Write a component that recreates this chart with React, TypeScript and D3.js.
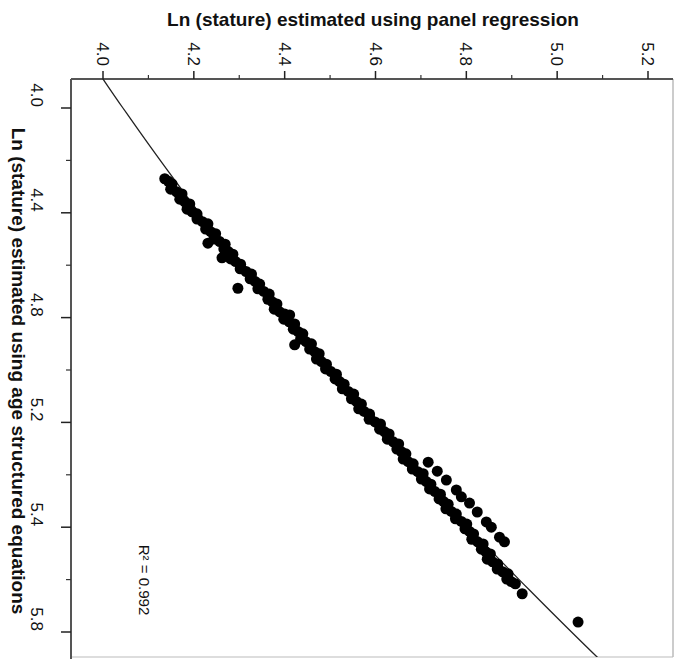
import React from "react";
import * as d3 from "d3";

// Top axis: Ln(stature) estimated using panel regression
const xTickValues = [4.0, 4.2, 4.4, 4.6, 4.8, 5.0, 5.2];
const xTickLabels = ["4.0", "4.2", "4.4", "4.6", "4.8", "5.0", "5.2"];
const xMinorTicks = [4.1, 4.3, 4.5, 4.7, 4.9, 5.1];
// Left axis: Ln(stature) estimated using age structured equations
const yTickValues = [4.0, 4.2, 4.4, 4.6, 4.8, 5.0];
const yTickLabels = ["4.0", "4.4", "4.8", "5.2", "5.4", "5.8"];
const yMinorTicks = [4.1, 4.3, 4.5, 4.7, 4.9];

// [panel regression, age structured]
const mainBand: [number, number][] = [
  [4.136, 4.135], [4.152, 4.145], [4.149, 4.155], [4.174, 4.164], [4.169, 4.174],
  [4.191, 4.183], [4.185, 4.193], [4.207, 4.202], [4.207, 4.212], [4.231, 4.221],
  [4.226, 4.231], [4.248, 4.24], [4.244, 4.25], [4.269, 4.26], [4.266, 4.269],
  [4.286, 4.279], [4.281, 4.288], [4.303, 4.298], [4.302, 4.307], [4.327, 4.317],
  [4.324, 4.326], [4.345, 4.336], [4.341, 4.345], [4.366, 4.355], [4.363, 4.365],
  [4.383, 4.374], [4.377, 4.384], [4.4, 4.393], [4.398, 4.403], [4.422, 4.412],
  [4.419, 4.422], [4.44, 4.431], [4.435, 4.441], [4.459, 4.45], [4.455, 4.46],
  [4.476, 4.469], [4.47, 4.479], [4.492, 4.489], [4.49, 4.498], [4.514, 4.508],
  [4.511, 4.517], [4.531, 4.527], [4.527, 4.536], [4.552, 4.546], [4.547, 4.555],
  [4.569, 4.565], [4.563, 4.574], [4.587, 4.584], [4.586, 4.594], [4.611, 4.603],
  [4.609, 4.613], [4.63, 4.622], [4.626, 4.632], [4.651, 4.641], [4.647, 4.651],
  [4.667, 4.66], [4.661, 4.67], [4.683, 4.679], [4.681, 4.689], [4.705, 4.698],
  [4.701, 4.708], [4.722, 4.718], [4.719, 4.727], [4.743, 4.737], [4.74, 4.746],
  [4.76, 4.756], [4.755, 4.765], [4.778, 4.775], [4.776, 4.784], [4.801, 4.794],
  [4.797, 4.803], [4.816, 4.813], [4.812, 4.823], [4.837, 4.832], [4.833, 4.842],
  [4.853, 4.851], [4.846, 4.861], [4.869, 4.87], [4.868, 4.88], [4.892, 4.889],
  [4.889, 4.899], [4.908, 4.908],
  [4.411, 4.395], [4.422, 4.452], [4.231, 4.258], [4.262, 4.286], [4.297, 4.344],
];
const mainBandCore: [number, number][] = [
  [4.144, 4.14], [4.151, 4.15], [4.162, 4.16], [4.172, 4.169], [4.18, 4.179],
  [4.188, 4.188], [4.196, 4.198], [4.207, 4.207], [4.219, 4.217], [4.229, 4.226],
  [4.237, 4.236], [4.246, 4.245], [4.257, 4.255], [4.268, 4.265], [4.276, 4.274],
  [4.284, 4.284], [4.292, 4.293], [4.303, 4.303], [4.315, 4.312], [4.326, 4.322],
  [4.335, 4.331], [4.343, 4.341], [4.354, 4.35], [4.365, 4.36], [4.373, 4.37],
  [4.38, 4.379], [4.389, 4.389], [4.399, 4.398], [4.41, 4.408], [4.421, 4.417],
  [4.43, 4.427], [4.438, 4.436], [4.447, 4.446], [4.457, 4.455], [4.466, 4.465],
  [4.473, 4.474], [4.481, 4.484], [4.491, 4.494], [4.502, 4.503], [4.513, 4.513],
  [4.521, 4.522], [4.529, 4.532], [4.54, 4.541], [4.55, 4.551], [4.558, 4.56],
  [4.566, 4.57], [4.575, 4.579], [4.587, 4.589], [4.599, 4.599], [4.61, 4.608],
  [4.62, 4.618], [4.628, 4.627], [4.639, 4.637], [4.649, 4.646], [4.657, 4.656],
  [4.664, 4.665], [4.672, 4.675], [4.682, 4.684], [4.693, 4.694], [4.703, 4.703],
  [4.712, 4.713], [4.721, 4.723], [4.731, 4.732], [4.742, 4.742], [4.75, 4.751],
  [4.758, 4.761], [4.767, 4.77], [4.777, 4.78], [4.789, 4.789], [4.799, 4.799],
  [4.807, 4.808], [4.814, 4.818], [4.825, 4.828], [4.835, 4.837], [4.843, 4.847],
  [4.85, 4.856], [4.858, 4.866], [4.869, 4.875], [4.88, 4.885], [4.891, 4.894],
  [4.899, 4.904],
];
const secondBand: [number, number][] = [
  [4.716, 4.676], [4.736, 4.693], [4.756, 4.71], [4.778, 4.729], [4.789, 4.742],
  [4.807, 4.754], [4.824, 4.771], [4.844, 4.79], [4.855, 4.8], [4.873, 4.819],
  [4.884, 4.828],
];
const outliers: [number, number][] = [
  [4.923, 4.927], [5.046, 4.981],
];
// quadratic fit: panel = c0 + c1*age + c2*age^2
const fitCoefficients = [3.7791, -0.671, 0.1843];
const fitAgeRange = [3.9, 5.1];
const rSquaredLabel = "R\u00B2 = 0.992";

export default function App() {
  const W = 676, H = 659;
  const left = 71, right = 673, top = 79, bottom = 657;
  const x = d3.scaleLinear().domain([4.0, 5.2]).range([103, 648]);
  const y = d3.scaleLinear().domain([4.0, 5.0]).range([108, 632]);
  const [c0, c1, c2] = fitCoefficients;
  const fitPts: [number, number][] = d3
    .range(fitAgeRange[0], fitAgeRange[1] + 1e-9, 0.01)
    .map(a => [c0 + c1 * a + c2 * a * a, a]);
  const line = d3.line<[number, number]>().x(d => x(d[0])).y(d => y(d[1]));
  const pts = [...mainBand, ...mainBandCore, ...secondBand, ...outliers];
  const font = "'Liberation Sans', Arial, sans-serif";
  return (
    <svg width={W} height={H} style={{ position: "absolute", left: 0, top: 0, background: "#fff" }}>
      <defs>
        <clipPath id="plot">
          <rect x={left} y={top} width={right - left} height={bottom - top} />
        </clipPath>
      </defs>
      <rect width={W} height={H} fill="#fff" />
      {/* frame */}
      <line x1={right} x2={right} y1={top} y2={bottom} stroke="#999" strokeWidth={1} />
      <line x1={left} x2={right} y1={bottom} y2={bottom} stroke="#bbb" strokeWidth={1} />
      <line x1={left} x2={right} y1={top} y2={top} stroke="#555" strokeWidth={2} />
      <line x1={left} x2={left} y1={top} y2={H} stroke="#555" strokeWidth={2} />
      {/* top axis ticks */}
      {xTickValues.map((v, i) => (
        <g key={"xt" + i}>
          <line x1={x(v)} x2={x(v)} y1={top} y2={top - 8} stroke="#222" strokeWidth={1.5} />
          <text
            transform={`translate(${x(v) - 6},${top - 13}) rotate(90)`}
            textAnchor="end"
            fontFamily={font}
            fontSize={17}
            fill="#111"
          >{xTickLabels[i]}</text>
        </g>
      ))}
      {xMinorTicks.map((v, i) => (
        <line key={"xm" + i} x1={x(v)} x2={x(v)} y1={top} y2={top - 4} stroke="#333" strokeWidth={1.2} />
      ))}
      {/* left axis ticks */}
      {yTickValues.map((v, i) => (
        <g key={"yt" + i}>
          <line x1={left} x2={left - 10} y1={y(v)} y2={y(v)} stroke="#222" strokeWidth={1.5} />
          <text
            transform={`translate(31,${y(v) - 1}) rotate(90)`}
            textAnchor="end"
            fontFamily={font}
            fontSize={17}
            fill="#111"
          >{yTickLabels[i]}</text>
        </g>
      ))}
      {yMinorTicks.map((v, i) => (
        <line key={"ym" + i} x1={left} x2={left - 5} y1={y(v)} y2={y(v)} stroke="#333" strokeWidth={1.2} />
      ))}
      {/* titles */}
      <text x={373} y={26} textAnchor="middle" fontFamily={font} fontWeight="bold" fontSize={19} fill="#111">
        Ln (stature) estimated using panel regression
      </text>
      <text transform={`translate(12,371) rotate(90)`} textAnchor="middle" fontFamily={font} fontWeight="bold" fontSize={19} fill="#111">
        Ln (stature) estimated using age structured equations
      </text>
      {/* data */}
      <g clipPath="url(#plot)">
        <path d={line(fitPts) || ""} fill="none" stroke="#222" strokeWidth={1.3} />
        {pts.map((d, i) => (
          <circle key={i} cx={x(d[0])} cy={y(d[1])} r={5.5} fill="#000" />
        ))}
      </g>
      <text transform={`translate(139,580) rotate(90)`} textAnchor="middle" fontFamily={font} fontSize={15} fill="#111">
        {rSquaredLabel}
      </text>
    </svg>
  );
}
